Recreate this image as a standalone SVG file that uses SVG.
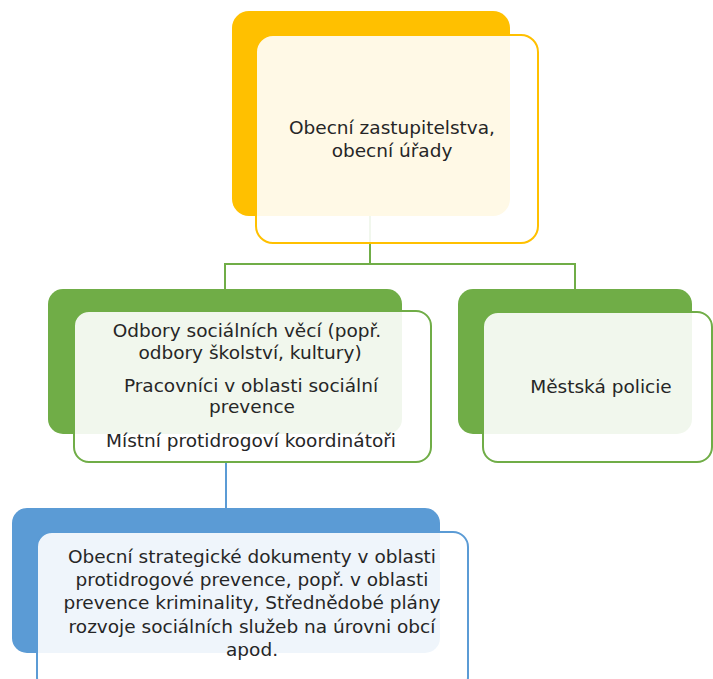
<svg xmlns="http://www.w3.org/2000/svg" width="713" height="679" viewBox="0 0 713 679">
<style>
.t{font-family:"DejaVu Sans","Liberation Sans",sans-serif;font-size:18.5px;fill:#262626;text-anchor:middle}
.fg{fill:#fff;fill-opacity:0.9;stroke-width:2}
.c{fill:none;stroke-width:2}
</style>
<rect width="713" height="679" fill="#fff"/>
<g id="connectors">
<path class="c" stroke="#70AD47" d="M370 216V264H225V290M370 264H575V290"/>
<path class="c" stroke="#5B9BD5" d="M226 462V508"/>
</g>
<g id="n1">
<rect x="232" y="11" width="278" height="205" rx="17" fill="#FFC000"/>
<rect class="fg" x="256" y="35" width="282" height="208" rx="17" stroke="#FFC000"/>
<text class="t" x="392" y="134">Obecní zastupitelstva,</text>
<text class="t" x="392" y="157">obecní úřady</text>
</g>
<g id="n2">
<rect x="48" y="289" width="354" height="145" rx="15" fill="#70AD47"/>
<rect class="fg" x="74" y="311" width="357" height="151" rx="15" stroke="#70AD47"/>
<text class="t" x="247" y="337">Odbory sociálních věcí (popř.</text>
<text class="t" x="250" y="359">odbory školství, kultury)</text>
<text class="t" x="251" y="392">Pracovníci v oblasti sociální</text>
<text class="t" x="252" y="413">prevence</text>
<text class="t" x="251" y="447">Místní protidrogoví koordinátoři</text>
</g>
<g id="n3">
<rect x="458" y="289" width="234" height="145" rx="15" fill="#70AD47"/>
<rect class="fg" x="483" y="312" width="229" height="150" rx="15" stroke="#70AD47"/>
<text class="t" x="601" y="393">Městská policie</text>
</g>
<g id="n4">
<rect x="12" y="508" width="428" height="145" rx="15" fill="#5B9BD5"/>
<rect class="fg" x="37" y="532" width="431" height="160" rx="15" stroke="#5B9BD5"/>
<text class="t" x="252" y="563">Obecní strategické dokumenty v oblasti</text>
<text class="t" x="252" y="586">protidrogové prevence, popř. v oblasti</text>
<text class="t" x="252" y="609">prevence kriminality, Střednědobé plány</text>
<text class="t" x="252" y="633">rozvoje sociálních služeb na úrovni obcí</text>
<text class="t" x="252" y="656">apod.</text>
</g>
</svg>
